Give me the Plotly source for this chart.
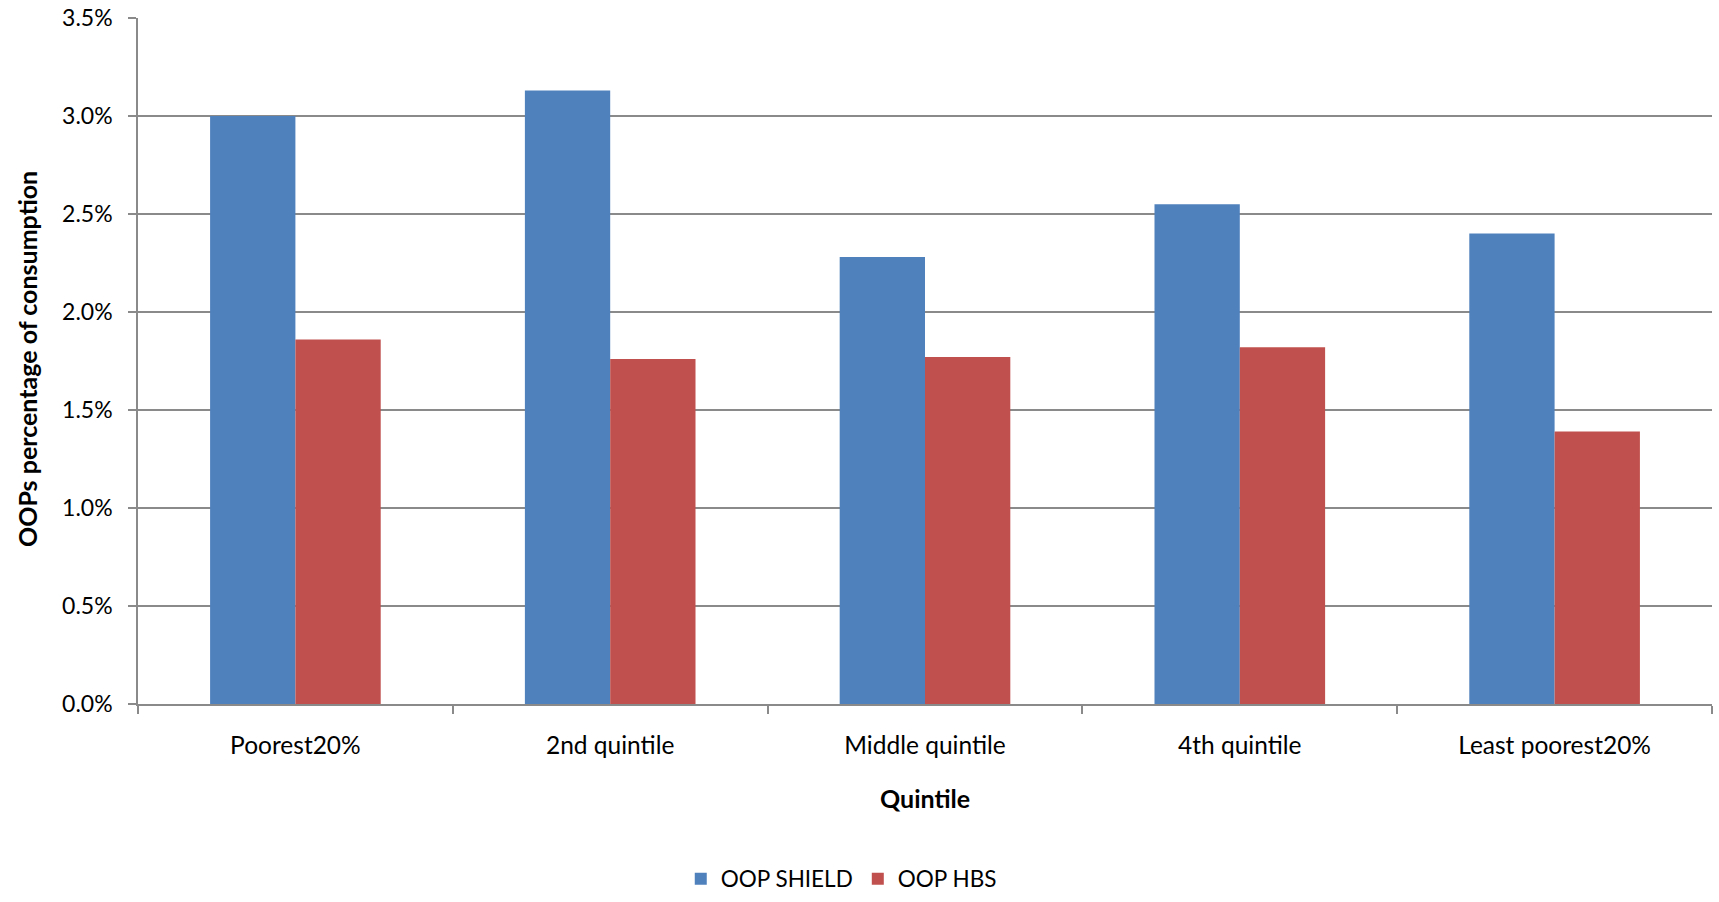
import plotly.graph_objects as go

# Out-of-pocket health payments as a share of consumption, by quintile
quintiles = ["Poorest20%", "2nd quintile", "Middle quintile", "4th quintile", "Least poorest20%"]
oop_shield = [0.0300, 0.0313, 0.0228, 0.0255, 0.0240]
oop_hbs = [0.0186, 0.0176, 0.0177, 0.0182, 0.0139]
y_ticks = [0.0, 0.005, 0.010, 0.015, 0.020, 0.025, 0.030, 0.035]

FONT = "Lato"
AXIS_GREY = "#8a8a8a"

fig = go.Figure()
fig.add_trace(go.Bar(name="OOP SHIELD", x=quintiles, y=oop_shield,
                     marker=dict(color="#4F81BD", line=dict(width=0))))
fig.add_trace(go.Bar(name="OOP HBS", x=quintiles, y=oop_hbs,
                     marker=dict(color="#C0504D", line=dict(width=0))))

fig.update_layout(
    width=1719, height=902,
    margin=dict(l=138, r=7, t=18, b=198, autoexpand=False),
    paper_bgcolor="white", plot_bgcolor="white",
    barmode="group", bargap=0.458, bargroupgap=0,
    font=dict(family=FONT, color="black"),
    showlegend=True,
    legend=dict(orientation="h", x=0.4468, xanchor="center", y=-0.2865, yanchor="bottom",
                font=dict(size=22.5, family=FONT), itemwidth=30, traceorder="normal",
                tracegroupgap=0),
    annotations=[
        dict(text="<b>Quintile</b>", xref="paper", yref="paper", x=0.5, y=-0.137,
             xanchor="center", yanchor="middle", showarrow=False,
             font=dict(size=25, family=FONT)),
        dict(text="<b>OOPs percentage of consumption</b>", xref="paper", yref="paper",
             x=-0.0705, y=0.503, xanchor="center", yanchor="middle", textangle=-90,
             showarrow=False, font=dict(size=25, family=FONT)),
    ],
)

fig.update_xaxes(
    type="category", tickson="boundaries", automargin=False,
    ticks="outside", ticklen=8, tickcolor=AXIS_GREY, tickwidth=1.5,
    showline=True, linecolor=AXIS_GREY, linewidth=1.5,
    showgrid=False, tickfont=dict(size=24.5, family=FONT),
    ticklabelstandoff=19,
)

fig.update_yaxes(
    range=[0, 0.035], tickvals=y_ticks, tickformat=".1%", automargin=False,
    ticks="outside", ticklen=8, tickcolor=AXIS_GREY, tickwidth=1.5,
    showline=True, linecolor=AXIS_GREY, linewidth=1.5,
    showgrid=True, gridcolor=AXIS_GREY, gridwidth=1.5,
    zeroline=False, tickfont=dict(size=23, family=FONT),
    ticklabelstandoff=11,
)

fig.write_html("out.html")
